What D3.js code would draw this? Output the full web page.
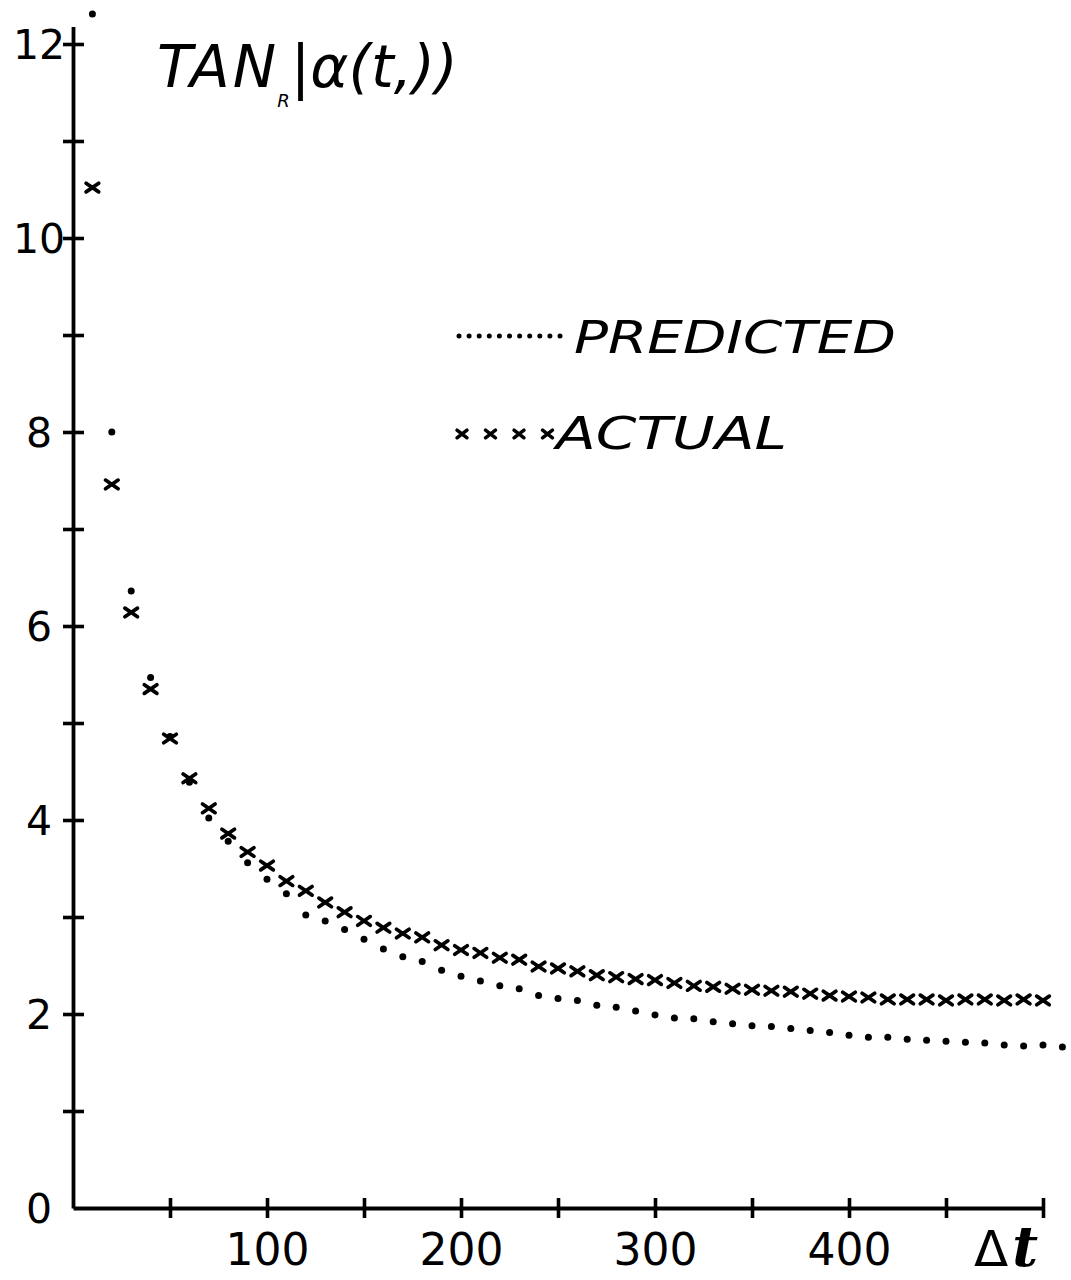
<!DOCTYPE html>
<html>
<head>
<meta charset="utf-8">
<script src="https://cdn.jsdelivr.net/npm/d3@7"></script>
<style>
  html, body { margin: 0; padding: 0; background: #fff; }
  svg { display: block; }
  text { font-family: "DejaVu Sans", sans-serif; fill: #000; }
</style>
</head>
<body>
<div id="chart"></div>
<script>
(function() {
// Δt values (x) for each series
const dtActual = [10, 20, 30, 40, 50, 60, 70, 80, 90, 100,
  110, 120, 130, 140, 150, 160, 170, 180, 190, 200,
  210, 220, 230, 240, 250, 260, 270, 280, 290, 300,
  310, 320, 330, 340, 350, 360, 370, 380, 390, 400,
  410, 420, 430, 440, 450, 460, 470, 480, 490, 500];
const actual = [10.52, 7.46, 6.14, 5.35, 4.84, 4.43, 4.12, 3.86, 3.67, 3.53,
  3.37, 3.27, 3.15, 3.05, 2.96, 2.89, 2.83, 2.79, 2.71, 2.66,
  2.63, 2.58, 2.56, 2.49, 2.47, 2.44, 2.40, 2.38, 2.36, 2.35,
  2.32, 2.29, 2.28, 2.26, 2.25, 2.24, 2.23, 2.21, 2.19, 2.18,
  2.17, 2.15, 2.15, 2.15, 2.14, 2.15, 2.15, 2.14, 2.15, 2.14];

const dtPredicted = [10, 20, 30, 40, 50, 60, 70, 80, 90, 100,
  110, 120, 130, 140, 150, 160, 170, 180, 190, 200,
  210, 220, 230, 240, 250, 260, 270, 280, 290, 300,
  310, 320, 330, 340, 350, 360, 370, 380, 390, 400,
  410, 420, 430, 440, 450, 460, 470, 480, 490, 500, 510];
const predicted = [12.31, 8.00, 6.36, 5.47, 4.86, 4.39, 4.02, 3.78, 3.56, 3.39,
  3.24, 3.02, 2.96, 2.87, 2.77, 2.67, 2.59, 2.54, 2.45, 2.39,
  2.34, 2.29, 2.26, 2.19, 2.16, 2.14, 2.09, 2.07, 2.03, 1.99,
  1.96, 1.95, 1.92, 1.90, 1.88, 1.87, 1.85, 1.83, 1.81, 1.78,
  1.76, 1.76, 1.74, 1.73, 1.72, 1.71, 1.70, 1.68, 1.67, 1.68, 1.66];

const xTicks = [50, 100, 150, 200, 250, 300, 350, 400, 450, 500];
const xTickLabels = ["", "100", "", "200", "", "300", "", "400", "", ""];
const yTicks = [0, 1, 2, 3, 4, 5, 6, 7, 8, 9, 10, 11, 12];
const yTickLabels = ["0", "", "2", "", "4", "", "6", "", "8", "", "10", "", "12"];

const W = 1071, H = 1280;

const svg = d3.select('#chart')
  .append('svg')
  .attr('width', W)
  .attr('height', H);

const x = d3.scaleLinear().domain([0, 500]).range([73, 1043]);
const y = d3.scaleLinear().domain([0, 12.18]).range([1208, 1208 - 12.18 * 97]);

// Axes (ticks cross the axis line)
const yAxis = d3.axisLeft(y)
  .tickValues(yTicks)
  .tickSizeOuter(0)
  .tickPadding(0)
  .tickFormat((d, i) => yTickLabels[i]);

const yG = svg.append('g')
  .attr('transform', `translate(${x(0)},0)`)
  .call(yAxis);

yG.select('.domain').attr('stroke', '#000').attr('stroke-width', 3.8);
yG.selectAll('.tick line')
  .attr('x1', -10).attr('x2', 11)
  .attr('stroke', '#000').attr('stroke-width', 3.6)
  .attr('display', d => d === 0 ? 'none' : null);
yG.selectAll('.tick text')
  .attr('x', -34)
  .attr('text-anchor', 'middle')
  .attr('dy', '0.36em')
  .attr('font-size', 41)
  .attr('font-family', '"DejaVu Sans", sans-serif')
  .attr('fill', '#000');

const xAxis = d3.axisBottom(x)
  .tickValues(xTicks)
  .tickSizeOuter(0)
  .tickPadding(0)
  .tickFormat((d, i) => xTickLabels[i]);

const xG = svg.append('g')
  .attr('transform', `translate(0,${y(0)})`)
  .call(xAxis);

xG.select('.domain').attr('stroke', '#000').attr('stroke-width', 3.8);
xG.selectAll('.tick line')
  .attr('y1', -10).attr('y2', 10)
  .attr('stroke', '#000').attr('stroke-width', 3.6);
xG.selectAll('.tick text')
  .attr('y', 57)
  .attr('dy', 0)
  .attr('text-anchor', 'middle')
  .attr('font-size', 44)
  .attr('font-family', '"DejaVu Sans", sans-serif')
  .attr('fill', '#000');

// Δt axis title
const xt = svg.append('text')
  .attr('x', 974)
  .attr('y', 1266);
xt.append('tspan')
  .attr('font-size', 50)
  .text('Δ');
xt.append('tspan')
  .attr('dx', 4)
  .attr('font-size', 56)
  .attr('font-family', '"DejaVu Serif", serif')
  .attr('font-weight', 'bold')
  .attr('font-style', 'italic')
  .text('t');

// y title TAN_R|α(t,))
const yt = svg.append('text')
  .attr('x', 157)
  .attr('y', 87)
  .attr('font-style', 'italic')
  .attr('font-size', 58);
yt.append('tspan')
  .attr('letter-spacing', 3)
  .text('TAN');
yt.append('tspan')
  .attr('dx', -2).attr('dy', 20)
  .attr('font-size', 18)
  .text('R');
yt.append('tspan')
  .attr('dx', 1).attr('dy', -20)
  .text('|α(t,))');

// Predicted: dots
svg.append('g')
  .selectAll('circle')
  .data(predicted)
  .enter()
  .append('circle')
  .attr('cx', (d, i) => x(dtPredicted[i]))
  .attr('cy', d => y(d))
  .attr('r', 3.5)
  .attr('fill', '#000');

// Actual: x markers
function cross(cx, cy, w, h) {
  return `M${cx - w},${cy - h}L${cx + w},${cy + h}M${cx - w},${cy + h}L${cx + w},${cy - h}`;
}
svg.append('g')
  .selectAll('path')
  .data(actual)
  .enter()
  .append('path')
  .attr('d', (d, i) => cross(x(dtActual[i]), y(d), 6.3, 4.3))
  .attr('stroke', '#000')
  .attr('stroke-width', 3.7)
  .attr('stroke-linecap', 'round')
  .attr('fill', 'none');

// Legend
const leg = svg.append('g');
leg.selectAll('circle')
  .data(d3.range(11))
  .enter()
  .append('circle')
  .attr('cx', d => 459 + d * 10.1)
  .attr('cy', 336)
  .attr('r', 2.5)
  .attr('fill', '#000');
leg.append('text')
  .attr('x', 574).attr('y', 353)
  .attr('font-style', 'italic')
  .attr('font-size', 45)
  .attr('textLength', 322)
  .attr('lengthAdjust', 'spacingAndGlyphs')
  .text('PREDICTED');

leg.selectAll('path')
  .data(d3.range(4))
  .enter()
  .append('path')
  .attr('d', d => cross(462 + d * 28.5, 434, 5, 3.8))
  .attr('stroke', '#000')
  .attr('stroke-width', 3.5)
  .attr('stroke-linecap', 'round')
  .attr('fill', 'none');
leg.append('text')
  .attr('x', 556).attr('y', 449)
  .attr('font-style', 'italic')
  .attr('font-size', 45)
  .attr('textLength', 231)
  .attr('lengthAdjust', 'spacingAndGlyphs')
  .text('ACTUAL');
})();
</script>
</body>
</html>
